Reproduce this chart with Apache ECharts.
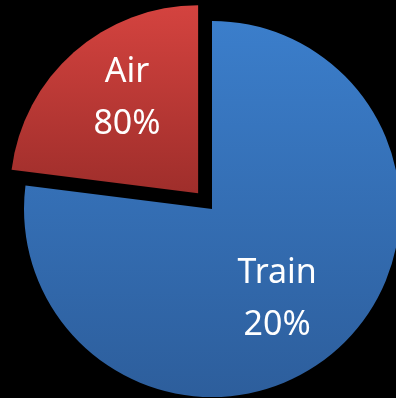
<!DOCTYPE html>
<html><head><meta charset="utf-8">
<style>html,body{margin:0;padding:0;background:#000;}#c{width:396px;height:398px;}</style>
<script src="https://cdn.jsdelivr.net/npm/echarts@6/dist/echarts.min.js"></script>
</head><body><div id="c"></div>
<script>
// Categories in drawing order (clockwise from 12 o'clock)
const categories = ['Train', 'Air'];
// Visual slice shares as drawn in the picture
const sliceShares = [77, 23];
// Percent text printed on each slice (as shown in the reference)
const printedPercents = ['20%', '80%'];

const colors = [
  {type:'linear', x:0, y:0, x2:0, y2:1, colorStops:[{offset:0,color:'#3b7ecb'},{offset:1,color:'#2d5e9c'}]},
  {type:'linear', x:0, y:0, x2:0, y2:1, colorStops:[{offset:0,color:'#d4433f'},{offset:1,color:'#9f2e2b'}]}
];
const labelShift = [[1, 18], [-7, -22]];

const chart = echarts.init(document.getElementById('c'), null, {renderer:'canvas'});
chart.setOption({
  backgroundColor: '#000',
  animation: false,
  series: [{
    type: 'pie',
    center: [212, 209],
    radius: [0, 188],
    startAngle: 90,
    clockwise: true,
    selectedMode: 'single',
    selectedOffset: 21,
    emphasis: {disabled: true},
    label: {
      show: true,
      position: 'inside',
      color: '#ffffff',
      fontFamily: 'Noto Sans',
      fontSize: 34,
      lineHeight: 52,
      align: 'center',
      formatter: p => p.name + '\n' + printedPercents[p.dataIndex]
    },
    labelLayout: p => ({dx: labelShift[p.dataIndex][0], dy: labelShift[p.dataIndex][1]}),
    labelLine: {show: false},
    data: categories.map((c, i) => ({
      name: c,
      value: sliceShares[i],
      selected: c === 'Air',
      itemStyle: {color: colors[i], borderWidth: 0}
    }))
  }]
});
</script></body></html>
